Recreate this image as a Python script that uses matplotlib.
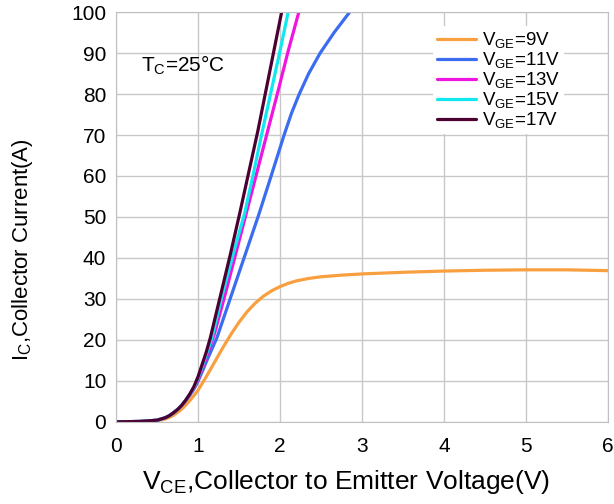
import matplotlib
matplotlib.use("Agg")
import matplotlib.pyplot as plt

plt.rcParams['font.family'] = ['Liberation Sans', 'DejaVu Sans']
plt.rcParams['mathtext.fontset'] = 'custom'
plt.rcParams['mathtext.rm'] = 'Liberation Sans'
plt.rcParams['mathtext.default'] = 'rm'

# I-V curves
v17 = [0, 0.3, 0.5, 0.6, 0.65, 0.7, 0.75, 0.8, 0.85, 0.9, 0.95, 1.0, 1.05, 1.1, 1.15,
       1.27, 1.39, 1.51, 1.62, 1.73, 1.83, 1.93, 2.02]
i17 = [0, 0.1, 0.4, 1.0, 1.5, 2.2, 3.0, 4.0, 5.3, 6.8, 8.6, 11, 14, 17, 20.5,
       30.5, 40.5, 51, 61, 71, 81, 91, 100]

v15 = [0, 0.3, 0.5, 0.6, 0.65, 0.7, 0.75, 0.8, 0.85, 0.9, 0.95, 1.0, 1.05, 1.1, 1.17,
       1.29, 1.43, 1.57, 1.68, 1.78, 1.89, 2.00, 2.10]
i15 = [0, 0.1, 0.4, 1.0, 1.5, 2.2, 3.0, 4.0, 5.3, 6.7, 8.4, 10.7, 13.5, 16.4, 20.5,
       30.5, 41, 51, 61, 70.5, 80.5, 90.5, 100]

v13 = [0, 0.3, 0.5, 0.6, 0.65, 0.7, 0.75, 0.8, 0.85, 0.9, 0.95, 1.0, 1.05, 1.1, 1.2,
       1.33, 1.46, 1.59, 1.72, 1.85, 1.98, 2.10, 2.23]
i13 = [0, 0.1, 0.4, 1.0, 1.5, 2.2, 3.0, 4.0, 5.2, 6.6, 8.2, 10.3, 12.9, 15.7, 21.5,
       31, 41, 51, 61, 71, 81, 90.5, 100]

v11 = [0, 0.3, 0.5, 0.6, 0.65, 0.7, 0.75, 0.8, 0.85, 0.9, 0.95, 1.0, 1.05, 1.1, 1.23,
       1.40, 1.57, 1.74, 1.90, 2.05, 2.14, 2.235, 2.35, 2.49, 2.66, 2.85]
i11 = [0, 0.1, 0.4, 1.0, 1.5, 2.2, 3.0, 4.0, 5.2, 6.5, 8.0, 9.9, 12.2, 14.6, 20.5,
       30.5, 40.5, 50.5, 60.5, 70, 75.3, 80, 85, 90, 95, 100]

v9 = [0, 0.3, 0.5, 0.6, 0.65, 0.7, 0.75, 0.8, 0.85, 0.9, 0.95, 1.0, 1.1, 1.2, 1.3,
      1.4, 1.5, 1.6, 1.7, 1.8, 1.9, 2.0, 2.1, 2.2, 2.35, 2.5, 2.75, 3.0, 3.5, 4.0,
      4.5, 5.0, 5.5, 6.0]
i9 = [0, 0.1, 0.3, 0.7, 1.1, 1.6, 2.3, 3.1, 4.1, 5.2, 6.4, 7.7, 11, 14.5, 18,
      21.3, 24.3, 26.9, 29.0, 30.7, 32.0, 33.0, 33.8, 34.4, 35.0, 35.4, 35.8, 36.1, 36.5, 36.8,
      37.0, 37.1, 37.1, 36.9]

curves = [
    (v9, i9, '#f8a040', r'V$_{GE}$=9V'),
    (v11, i11, '#3c6cf0', r'V$_{GE}$=11V'),
    (v13, i13, '#f014e0', r'V$_{GE}$=13V'),
    (v15, i15, '#10e8f0', r'V$_{GE}$=15V'),
    (v17, i17, '#4c0032', r'V$_{GE}$=17V'),
]

fig = plt.figure(figsize=(6.14, 5.04), dpi=100)
ax = fig.add_axes([0.189, 0.163, 0.801, 0.813])

for v, i, c, lab in curves:
    ax.plot(v, i, color=c, lw=2.3, label=lab, solid_capstyle='round',
            solid_joinstyle='round')

ax.set_xlim(0, 6)
ax.set_ylim(0, 100)
ax.set_xticks(range(0, 7))
ax.set_yticks(range(0, 101, 10))
ax.grid(True, color='#c8c8c8', lw=1.0)
ax.set_axisbelow(True)
for s in ax.spines.values():
    s.set_color('#c0c0c0')
ax.tick_params(length=0, labelsize=15, pad=7)
ax.tick_params(axis='x', pad=11)

ax.set_xlabel(r'V$_{CE}$,Collector to Emitter Voltage(V)', fontsize=19)
ax.set_ylabel(r'I$_{C}$,Collector Current(A)', fontsize=16)
ax.xaxis.set_label_coords(0.467, -0.112)
ax.yaxis.set_label_coords(-0.165, 0.42)

ax.text(0.31, 87, r'T$_{C}$=25°C', fontsize=15, va='center')

leg = ax.legend(loc='upper left', bbox_to_anchor=(0.645, 0.965), fontsize=13.5,
                frameon=True, framealpha=1, edgecolor='none', fancybox=False,
                handlelength=2.1, handletextpad=0.3, labelspacing=0.0,
                borderpad=0.2, borderaxespad=0)

fig.savefig('out.png', dpi=100)
